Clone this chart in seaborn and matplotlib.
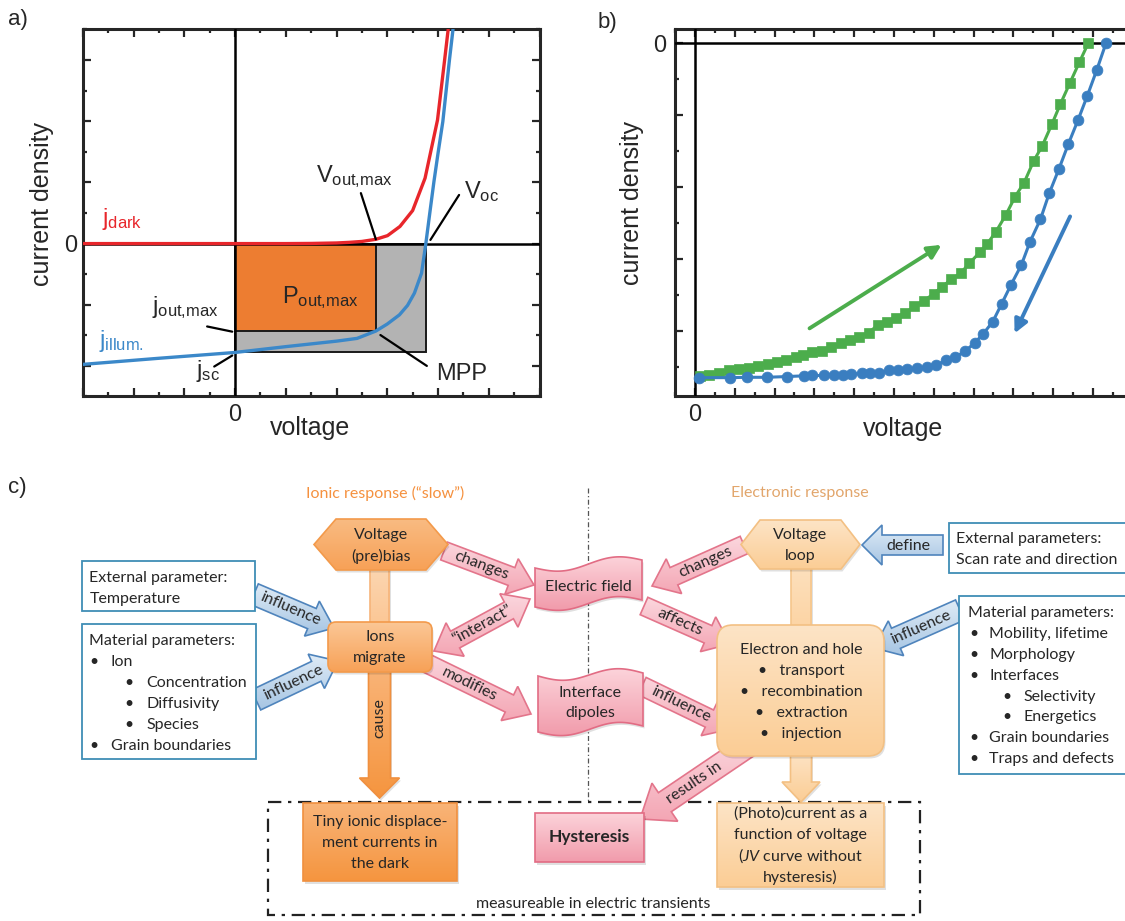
import numpy as np
import matplotlib
matplotlib.use("Agg")
import matplotlib.pyplot as plt
import matplotlib.colors as mcolors
from matplotlib.patches import Polygon, Rectangle, FancyBboxPatch, PathPatch
from matplotlib.ticker import MultipleLocator, FuncFormatter
import seaborn as sns

# ---------------------------------------------------------------- data
# (a) dark and illuminated j-V characteristics (arbitrary units)
dark_voltage = [-6, -3, 0, 2, 3, 4, 4.5, 5, 5.55, 6.01, 6.5, 7.0, 7.49, 7.98, 8.26, 8.40]
dark_current = [0, 0, 0, 0, 0.005, 0.02, 0.04, 0.07, 0.14, 0.26, 0.56, 1.08, 2.14, 4.04, 6.0, 7.0]
illum_voltage = [-6, -3, 0, 2, 3, 4, 4.81, 5.55, 6.0, 6.48, 6.8, 7.07, 7.35, 7.52,
                 7.7, 7.84, 8.0, 8.19, 8.45, 8.59]
illum_current = [-3.95, -3.75, -3.56, -3.37, -3.28, -3.19, -3.10, -2.86, -2.63, -2.33,
                 -2.02, -1.62, -0.97, 0.0, 1.15, 2.03, 2.95, 3.99, 6.0, 7.0]
v_mpp, j_mpp = 5.55, -2.86      # maximum power point
v_oc, j_sc = 7.53, -3.56        # open-circuit voltage / short-circuit current

# (b) hysteretic j-V scan: forward (squares) and reverse (circles)
fwd_voltage = [0.26, 0.70, 1.22, 1.71, 2.22, 2.74, 3.18, 3.66, 4.12, 4.57, 5.06, 5.41,
               5.90, 6.37, 6.84, 7.33, 7.77, 8.25, 8.73, 9.21, 9.67, 10.09, 10.56, 11.03,
               11.52, 11.99, 12.43, 12.88, 13.35, 13.79, 14.31, 14.69, 15.13, 15.62, 16.09,
               16.54, 17.02, 17.45, 17.94, 18.36, 18.85, 19.32, 19.76]
fwd_current = [-9.24, -9.21, -9.15, -9.09, -9.04, -9.02, -8.96, -8.91, -8.86, -8.80, -8.72,
               -8.67, -8.59, -8.54, -8.43, -8.33, -8.24, -8.15, -8.04, -7.82, -7.73, -7.64,
               -7.50, -7.31, -7.15, -6.96, -6.76, -6.56, -6.39, -6.11, -5.81, -5.57, -5.23,
               -4.77, -4.26, -3.87, -3.27, -2.85, -2.24, -1.69, -1.09, -0.52, 0.0]
rev_voltage = [0.23, 1.75, 2.62, 3.61, 4.61, 5.46, 5.90, 6.49, 6.98, 7.42, 7.85, 8.38, 8.81,
               9.25, 9.77, 10.21, 10.68, 11.17, 11.64, 12.13, 12.62, 13.09, 13.56, 14.05,
               14.49, 14.97, 15.41, 15.88, 16.40, 16.84, 17.36, 17.80, 18.29, 18.76, 19.25,
               19.72, 20.19, 20.65]
rev_current = [-9.29, -9.29, -9.28, -9.28, -9.26, -9.24, -9.23, -9.23, -9.21, -9.21, -9.20,
               -9.17, -9.17, -9.15, -9.09, -9.09, -9.06, -9.03, -9.00, -8.94, -8.81, -8.72,
               -8.56, -8.33, -8.07, -7.73, -7.24, -6.71, -6.16, -5.51, -4.89, -4.17, -3.49,
               -2.80, -2.13, -1.45, -0.74, 0.0]

# (c) flow-chart texts
left_ext_lines = ["External parameter:", "Temperature"]
left_mat_lines = [(0, "Material parameters:"), (1, "Ion"), (2, "Concentration"),
                  (2, "Diffusivity"), (2, "Species"), (1, "Grain boundaries")]
right_ext_lines = ["External parameters:", "Scan rate and direction"]
right_mat_lines = [(0, "Material parameters:"), (1, "Mobility, lifetime"), (1, "Morphology"),
                   (1, "Interfaces"), (2, "Selectivity"), (2, "Energetics"),
                   (1, "Grain boundaries"), (1, "Traps and defects")]
eh_lines = ["Electron and hole", "\u2022   transport", "\u2022   recombination",
            "\u2022   extraction", "\u2022   injection"]
photo_lines = ["(Photo)current as a", "function of voltage", "($JV$ curve without", "hysteresis)"]
tiny_lines = ["Tiny ionic displace-", "ment currents in", "the dark"]

# ---------------------------------------------------------------- style
sns.set_style("ticks")
plt.rcParams["font.family"] = ["Liberation Sans", "DejaVu Sans"]
plt.rcParams["mathtext.fontset"] = "custom"
plt.rcParams["mathtext.rm"] = "Liberation Sans"
plt.rcParams["mathtext.it"] = "Lato:italic"
plt.rcParams["mathtext.bf"] = "Liberation Sans:bold"
plt.rcParams["axes.linewidth"] = 2.2

RED, BLUE_A = "#e8262b", "#3b88c9"
GREEN, BLUE_B = "#4cad4c", "#3a7ec0"
ORANGE, GRAY = "#ed7d31", "#b3b3b3"
FLOW_FONT = ["Lato", "DejaVu Sans"]
FS = 11.5

W, H = 1125, 921
fig = plt.figure(figsize=(W / 100, H / 100), dpi=100)


def px_axes(x0, x1, y0, y1):
    return fig.add_axes([x0 / W, 1 - y1 / H, (x1 - x0) / W, (y1 - y0) / H])


def zero_only(v, pos):
    return "0" if abs(v) < 1e-9 else ""


def style_frame(ax, xpad, ypad):
    ax.xaxis.set_major_locator(MultipleLocator(2))
    ax.xaxis.set_minor_locator(MultipleLocator(1))
    ax.yaxis.set_major_locator(MultipleLocator(2))
    ax.yaxis.set_minor_locator(MultipleLocator(1))
    ax.xaxis.set_major_formatter(FuncFormatter(zero_only))
    ax.yaxis.set_major_formatter(FuncFormatter(zero_only))
    ax.tick_params(which="both", direction="in", top=True, right=True, width=1.6,
                   labelsize=17)
    ax.tick_params(which="major", length=5.5)
    ax.tick_params(which="minor", length=3)
    ax.tick_params(axis="x", which="major", pad=xpad)
    ax.tick_params(axis="y", which="major", pad=ypad)
    for s in ax.spines.values():
        s.set_linewidth(2.2)
        s.set_visible(True)


# ---------------------------------------------------------------- panel a
ax_a = px_axes(82.8, 539.5, 29.5, 396.5)
ax_a.add_patch(Rectangle((0, 0), v_oc, j_sc, fc=GRAY, ec="#1a1a1a", lw=1.4, zorder=1))
ax_a.add_patch(Rectangle((0, 0), v_mpp, j_mpp, fc=ORANGE, ec="#1a1a1a", lw=1.4, zorder=2))
ax_a.axhline(0, color="black", lw=1.8, zorder=3)
ax_a.axvline(0, color="black", lw=1.8, zorder=3)
sns.lineplot(x=dark_voltage, y=dark_current, ax=ax_a, color=RED, linewidth=2.4,
             sort=False, estimator=None, zorder=5)
sns.lineplot(x=illum_voltage, y=illum_current, ax=ax_a, color=BLUE_A, linewidth=2.4,
             sort=False, estimator=None, zorder=5)
ax_a.set_xlim(-6, 12)
ax_a.set_ylim(-5, 7)
style_frame(ax_a, 5.5, 4)

lab = dict(fontsize=17, va="baseline", ha="left", zorder=6)
ax_a.text(-5.25, 0.61, r"$\mathrm{j}_{\mathrm{dark}}$", color=RED, **lab)
ax_a.text(-5.35, -3.37, r"$\mathrm{j}_{\mathrm{illum.}}$", color=BLUE_A, **lab)
ax_a.text(3.2, 2.0, r"$\mathrm{V}_{\mathrm{out{,}max}}$", **lab)
ax_a.text(9.04, 1.48, r"$\mathrm{V}_{\mathrm{oc}}$", **lab)
ax_a.text(1.86, -1.95, r"$\mathrm{P}_{\mathrm{out{,}max}}$", **lab)
ax_a.text(-3.28, -2.28, r"$\mathrm{j}_{\mathrm{out{,}max}}$", **lab)
ax_a.text(-1.52, -4.35, r"$\mathrm{j}_{\mathrm{sc}}$", **lab)
ax_a.text(7.91, -4.46, "MPP", **lab)
leader = dict(color="black", lw=1.6, zorder=6)
ax_a.plot([4.96, v_mpp], [1.65, 0.14], **leader)
ax_a.plot([8.83, 7.70], [1.59, 0.12], **leader)
ax_a.plot([-1.10, -0.11], [-2.71, j_mpp - 0.02], **leader)
ax_a.plot([-0.82, -0.11], [-4.02, j_sc - 0.1], **leader)
ax_a.plot([7.56, 5.73], [-4.0, -2.99], **leader)

ax_a.set_xlabel("voltage", fontsize=18)
ax_a.set_ylabel("current density", fontsize=18)
ax_a.xaxis.label.set_va("center")
ax_a.yaxis.label.set_va("center")
ax_a.yaxis.label.set_ha("center")
ax_a.xaxis.set_label_coords(0.4975, -0.0858)
ax_a.yaxis.set_label_coords(-0.0893, 0.5245)

# ---------------------------------------------------------------- panel b
ax_b = px_axes(675, 1132.8, 29.3, 396)
ax_b.axhline(0, color="black", lw=1.8, zorder=3)
ax_b.axvline(0, color="black", lw=1.8, zorder=3)
sns.lineplot(x=fwd_voltage, y=fwd_current, ax=ax_b, color=GREEN, linewidth=2.2,
             marker="s", markersize=7.2, markeredgecolor=GREEN, markeredgewidth=0.5,
             sort=False, estimator=None, zorder=5)
sns.lineplot(x=rev_voltage, y=rev_current, ax=ax_b, color=BLUE_B, linewidth=2.2,
             marker="o", markersize=7.8, markeredgecolor=BLUE_B, markeredgewidth=0.5,
             sort=False, estimator=None, zorder=5)
ax_b.annotate("", xy=(12.39, -5.6), xytext=(5.76, -7.92),
              arrowprops=dict(arrowstyle="-|>", color=GREEN, lw=2.8, mutation_scale=20,
                              shrinkA=0, shrinkB=0))
ax_b.annotate("", xy=(16.06, -8.06), xytext=(18.85, -4.81),
              arrowprops=dict(arrowstyle="-|>", color=BLUE_B, lw=2.8, mutation_scale=20,
                              shrinkA=0, shrinkB=0))
ax_b.set_xlim(-1, 22)
ax_b.set_ylim(-9.8, 0.39)
style_frame(ax_b, 6, 6)
ax_b.set_xlabel("voltage", fontsize=18)
ax_b.set_ylabel("current density", fontsize=18)
ax_b.xaxis.label.set_va("center")
ax_b.yaxis.label.set_va("center")
ax_b.yaxis.label.set_ha("center")
ax_b.xaxis.set_label_coords(0.498, -0.09)
ax_b.yaxis.set_label_coords(-0.094, 0.526)

# ---------------------------------------------------------------- panel c (pixel canvas)
ax_c = fig.add_axes([0, 0, 1, 1])
ax_c.axis("off")

ax_c.text(8, 9, "a)", fontsize=16, va="top", ha="left")
ax_c.text(598, 12, "b)", fontsize=16, va="top", ha="left")
ax_c.text(8, 477, "c)", fontsize=16, va="top", ha="left")


def shaded(patch, top, bottom, z, edge, lw=1.2, shadow=True):
    """Add a patch with a vertical colour gradient fill and a soft shadow."""
    ax_c.add_patch(patch)
    patch.set_facecolor("none")
    patch.set_edgecolor(edge)
    patch.set_linewidth(lw)
    patch.set_zorder(z + 0.2)
    path = patch.get_path().transformed(patch.get_patch_transform())
    ext = path.get_extents()
    if shadow:
        sh = PathPatch(path.transformed(matplotlib.transforms.Affine2D().translate(1.5, 2.5)),
                       fc="#000000", ec="none", alpha=0.12, zorder=z - 0.1)
        ax_c.add_patch(sh)
    c0 = np.array(mcolors.to_rgba(top))
    c1 = np.array(mcolors.to_rgba(bottom))
    t = np.linspace(0, 1, 128)[:, None, None]
    img = c0 * (1 - t) + c1 * t
    im = ax_c.imshow(img, extent=(ext.x0, ext.x1, ext.y1, ext.y0), origin="upper",
                     aspect="auto", interpolation="bilinear", zorder=z)
    im.set_clip_path(patch)
    return patch


def block_arrow(tail, tip, w, hw, hl, heads=1):
    p0 = np.asarray(tail, float)
    p1 = np.asarray(tip, float)
    d = p1 - p0
    u = d / np.hypot(*d)
    n = np.array([-u[1], u[0]])
    b1 = p1 - u * hl
    if heads == 2:
        b0 = p0 + u * hl
        pts = [p0, b0 + n * hw / 2, b0 + n * w / 2, b1 + n * w / 2, b1 + n * hw / 2, p1,
               b1 - n * hw / 2, b1 - n * w / 2, b0 - n * w / 2, b0 - n * hw / 2]
    else:
        pts = [p0 + n * w / 2, b1 + n * w / 2, b1 + n * hw / 2, p1,
               b1 - n * hw / 2, b1 - n * w / 2, p0 - n * w / 2]
    return Polygon(np.array(pts), closed=True)


def arrow_label(tail, tip, t, text, size=FS):
    p0 = np.asarray(tail, float)
    p1 = np.asarray(tip, float)
    x, y = p0 + (p1 - p0) * t
    ang = np.degrees(np.arctan2(-(p1[1] - p0[1]), p1[0] - p0[0]))
    if ang > 90:
        ang -= 180
    elif ang < -90:
        ang += 180
    ax_c.text(x, y, text, rotation=ang, rotation_mode="anchor", ha="center",
              va="center", fontsize=size, family=FLOW_FONT, zorder=9)


def hexagon(x0, x1, y0, y1, inset):
    ym = (y0 + y1) / 2
    return Polygon([(x0, ym), (x0 + inset, y0), (x1 - inset, y0), (x1, ym),
                    (x1 - inset, y1), (x0 + inset, y1)], closed=True)


def wave(x0, x1, top, bottom, amp, tilt_top, tilt_bottom):
    t = np.linspace(0, 1, 80)
    xs = x0 + (x1 - x0) * t
    yt = top + amp * np.sin(2 * np.pi * t) - tilt_top * t
    yb = bottom + amp * np.sin(2 * np.pi * t) - tilt_bottom * t
    verts = np.vstack([np.column_stack([xs, yt]), np.column_stack([xs[::-1], yb[::-1]])])
    return Polygon(verts, closed=True)


def ctext(x, y, s, **kw):
    kw.setdefault("fontsize", FS)
    ax_c.text(x, y, s, ha="center", va="center", family=FLOW_FONT, zorder=9, **kw)


# colour sets
PINK = ("#fbd7de", "#f4a6b4", "#e3758b")
PINK_BOX = ("#fcd3da", "#f19bab", "#e26c84")
BLUE_ARR = ("#dfebf6", "#a6c5e3", "#4f84bc")
ION = ("#fbc796", "#f7a157", "#f39a4b")
ION_DARK = ("#f9b478", "#f5953f", "#f0903f")
ELEC = ("#fde4c6", "#fbcd95", "#f3c083")
BOX_EDGE = "#3f8db5"

# headings and divider
ax_c.text(385, 493, "Ionic response (\u201cslow\u201d)", ha="center", va="center",
          fontsize=FS, color="#f5913f", family=FLOW_FONT)
ax_c.text(800, 493, "Electronic response", ha="center", va="center",
          fontsize=FS, color="#e2a66c", family=FLOW_FONT)
ax_c.plot([588, 588], [488, 802], color="#555555", lw=0.9, ls=(0, (4, 2, 1, 2)), zorder=0.5)

# measurement frame
ax_c.add_patch(Rectangle((268, 802), 651.5, 113, fc="none", ec="#222222", lw=1.6,
                         ls=(0, (6, 3, 1.5, 3)), zorder=0.6))
ctext(593.5, 904, "measureable in electric transients")

# vertical flow shafts
shaded(Rectangle((369.6, 566), 19.7, 58), "#fcd6b2", "#fbc795", 1, "#f6b47a")
shaded(block_arrow((379.5, 668), (379.5, 798), 22, 40, 20), ION_DARK[0], ION_DARK[1], 1,
       ION_DARK[2])
shaded(Rectangle((790.6, 566), 20.6, 62), "#fde0bd", "#fcd4a4", 1, "#f5c68c")
shaded(block_arrow((801, 752), (801, 802), 21, 38, 20), ELEC[0], ELEC[1], 1, ELEC[2])

# nodes
shaded(hexagon(314, 448, 519, 570, 22), "#f9bb82", "#f7a157", 3, ION[2])
ctext(381, 535, "Voltage")
ctext(381, 556, "(pre)bias")
shaded(hexagon(741, 860, 520, 569, 19), ELEC[0], ELEC[1], 3, ELEC[2])
ctext(800, 535, "Voltage")
ctext(800, 556, "loop")

shaded(FancyBboxPatch((328, 622), 104, 50, boxstyle="round,pad=0,rounding_size=8"),
       ION[0], ION[1], 3, ION[2])
ctext(380, 637, "Ions")
ctext(380, 658, "migrate")

shaded(FancyBboxPatch((717, 625), 167, 131, boxstyle="round,pad=0,rounding_size=16"),
       ELEC[0], ELEC[1], 3, ELEC[2])
for i, s in enumerate(eh_lines):
    ctext(801, 650 + 21 * i, s)

shaded(wave(535, 642, 568, 607, 5, 8, 7), PINK_BOX[0], PINK_BOX[1], 3, PINK_BOX[2])
ctext(588, 587, "Electric field")
shaded(wave(538, 643, 676, 732, 5, 3, 6), PINK_BOX[0], PINK_BOX[1], 3, PINK_BOX[2])
ctext(590, 693, "Interface")
ctext(590, 713, "dipoles")

shaded(Rectangle((303, 803), 154, 78), ION_DARK[0], ION_DARK[1], 3, ION_DARK[2])
for i, s in enumerate(tiny_lines):
    ctext(380, 822 + 21 * i, s)
shaded(Rectangle((535, 813), 109, 49), PINK_BOX[0], PINK_BOX[1], 3, PINK_BOX[2])
ctext(589.5, 837, "Hysteresis", fontsize=12.5, fontweight="bold")
shaded(Rectangle((717, 803), 167, 84), ELEC[0], ELEC[1], 3, ELEC[2])
for i, s in enumerate(photo_lines):
    ctext(800.5, 814 + 21 * i, s)

# pink relation arrows: (tail, tip, label position along arrow, label, heads)
pink_arrows = [
    ((444, 551), (534, 585), 0.42, "changes", 1),
    ((434, 651), (530, 599), 0.5, "\u201cinteract\u201d", 2),
    ((420, 660), (531, 714), 0.45, "modifies", 1),
    ((744, 545), (652, 586), 0.42, "changes", 1),
    ((644, 606), (730, 644), 0.42, "affects", 1),
    ((642, 686), (731, 729), 0.43, "influence", 1),
]
for tail, tip, t, s, heads in pink_arrows:
    shaded(block_arrow(tail, tip, 19, 38, 24, heads), PINK[0], PINK[1], 2, PINK[2],
           shadow=False)
    arrow_label(tail, tip, t, s)
tail, tip = (748, 746), (640, 819)
shaded(block_arrow(tail, tip, 23, 46, 30), PINK[0], PINK[1], 2.5, PINK[2], shadow=False)
arrow_label(tail, tip, 0.5, "results in")

# blue parameter arrows
blue_arrows = [
    ((254, 594), (334, 628), 0.45, "influence"),
    ((256, 700), (338, 661), 0.45, "influence"),
    ((960, 610), (874, 648), 0.45, "influence"),
]
for tail, tip, t, s in blue_arrows:
    shaded(block_arrow(tail, tip, 22, 38, 24), BLUE_ARR[0], BLUE_ARR[1], 2, BLUE_ARR[2],
           shadow=False)
    arrow_label(tail, tip, t, s)
shaded(block_arrow((943, 545), (862, 545), 20, 40, 20), BLUE_ARR[0], BLUE_ARR[1], 2,
       BLUE_ARR[2], shadow=False)
ctext(908, 546, "define")
ctext(379.6, 718, "cause", rotation=90)

# parameter text boxes
for (x0, y0, w, h) in [(81.7, 560.7, 173.3, 50), (81.7, 624, 174.3, 135.3),
                       (949.3, 522.7, 190, 50.6), (959.3, 596, 180, 178)]:
    ax_c.add_patch(Rectangle((x0, y0), w, h, fc="white", ec=BOX_EDGE, lw=1.3, zorder=4))


def list_text(lines, x_head, x_b1, x_t1, x_b2, x_t2, y_first, step):
    for i, (lvl, s) in enumerate(lines):
        y = y_first + step * i
        kw = dict(va="baseline", fontsize=FS, family=FLOW_FONT, zorder=9)
        if lvl == 0:
            ax_c.text(x_head, y, s, **kw)
        elif lvl == 1:
            ax_c.text(x_b1, y, "\u2022", **kw)
            ax_c.text(x_t1, y, s, **kw)
        else:
            ax_c.text(x_b2, y, "\u2022", **kw)
            ax_c.text(x_t2, y, s, **kw)


for i, s in enumerate(left_ext_lines):
    ax_c.text(89.3, 581.7 + 21 * i, s, va="baseline", fontsize=FS, family=FLOW_FONT, zorder=9)
list_text(left_mat_lines, 89.3, 89.5, 111, 124.5, 146, 645, 21)
for i, s in enumerate(right_ext_lines):
    ax_c.text(956, 542.7 + 21.3 * i, s, va="baseline", fontsize=FS, family=FLOW_FONT, zorder=9)
list_text(right_mat_lines, 968.3, 969, 989.3, 1002, 1023.3, 616.7, 20.95)

ax_c.set_xlim(0, W)
ax_c.set_ylim(H, 0)

fig.savefig("out.png", dpi=100)
